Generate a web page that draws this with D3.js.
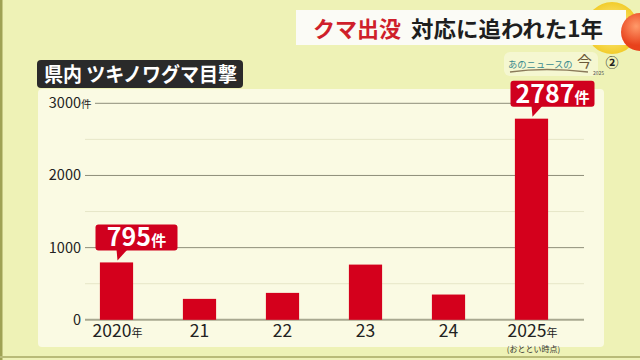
<!DOCTYPE html>
<html><head><meta charset="utf-8">
<script src="https://cdn.jsdelivr.net/npm/d3@7/dist/d3.min.js"></script>
<style>html,body{margin:0;padding:0;background:#eef2b6;}svg{display:block;}</style>
</head><body>
<svg id="c" width="640" height="360"></svg>
<script>
const categories = ["2020", "21", "22", "23", "24", "2025"];
const yearSuffix = ["年", "", "", "", "", "年"];
const values = [795, 290, 373, 765, 350, 2787];
const callouts = [{i: 0, label: "795"}, {i: 5, label: "2787"}];
const majorTicks = [0, 1000, 2000, 3000];
const minorTicks = [500, 1500, 2500];
const titleText = "県内 ツキノワグマ目撃";
const headRed = "クマ出没";
const headBlack = "対応に追われた1年";

const F = "'Noto Sans CJK JP','Noto Sans',sans-serif";
const svg = d3.select("#c");

// background
svg.append("rect").attr("width",640).attr("height",360).attr("fill","#eef2b6");
svg.append("rect").attr("x",0).attr("y",0).attr("width",2.5).attr("height",360).attr("fill","#9fa255");
svg.append("rect").attr("x",0).attr("y",356).attr("width",640).attr("height",2).attr("fill","#b9bb78");

// top-right decorations
const defs = svg.append("defs");
const g1 = defs.append("radialGradient").attr("id","yel");
g1.append("stop").attr("offset","0%").attr("stop-color","#fff3a0");
g1.append("stop").attr("offset","100%").attr("stop-color","#f2cc2a");
const g2 = defs.append("radialGradient").attr("id","org").attr("cx","40%").attr("cy","35%");
g2.append("stop").attr("offset","0%").attr("stop-color","#ff9a6a");
g2.append("stop").attr("offset","100%").attr("stop-color","#e8421c");
svg.append("circle").attr("cx",612).attr("cy",28).attr("r",26).attr("fill","url(#yel)");

// header box
svg.append("rect").attr("x",296).attr("y",10).attr("width",330).attr("height",35).attr("fill","#fbfbf6");
svg.append("circle").attr("cx",640).attr("cy",32).attr("r",19).attr("fill","url(#org)");
svg.append("text").attr("x",313).attr("y",37).attr("font-family",F).attr("font-weight",700).attr("font-size",22)
  .attr("fill","#cf1f2b").text(headRed);
svg.append("text").attr("x",411).attr("y",37).attr("font-family",F).attr("font-weight",700).attr("font-size",22)
  .attr("fill","#1e1e1e").attr("textLength",192).attr("lengthAdjust","spacingAndGlyphs").text(headBlack);

// logo
svg.append("rect").attr("x",504).attr("y",52).attr("width",94).attr("height",24).attr("rx",6).attr("fill","#f6f8d8").attr("opacity",0.8);
svg.append("text").attr("x",508).attr("y",68).attr("font-family",F).attr("font-size",9.3).attr("fill","#3a8a8e")
  .text("あのニュースの");
svg.append("text").attr("x",577).attr("y",67).attr("font-family",F).attr("font-size",15).attr("fill","#6b5a3a").text("今");
svg.append("text").attr("x",593).attr("y",75).attr("font-family",F).attr("font-size",5).attr("fill","#555").text("2025");
svg.append("path").attr("d","M510,72 Q545,67 588,72").attr("stroke","#8a7a5a").attr("stroke-width",1.3).attr("fill","none");
svg.append("text").attr("x",612).attr("y",67).attr("text-anchor","middle").attr("font-family",F).attr("font-weight",700).attr("font-size",13).attr("fill","#222").text("②");

// panel
svg.append("rect").attr("x",38).attr("y",89).attr("width",566).attr("height",258).attr("rx",4).attr("fill","#fafae3");

// title box
svg.append("rect").attr("x",37).attr("y",60).attr("width",206).attr("height",28).attr("rx",4).attr("fill","#2a2a2a");
svg.append("text").attr("x",44).attr("y",82).attr("font-family",F).attr("font-weight",700).attr("font-size",20).attr("fill","#fff")
  .attr("textLength",193).attr("lengthAdjust","spacingAndGlyphs").text(titleText);

// scales
const y = d3.scaleLinear().domain([0,3000]).range([319.8,103.3]);
const x = d3.scaleBand().domain(categories).range([75,573]).paddingInner(0.6).paddingOuter(0.3);

// grid
svg.append("g").selectAll("line").data(minorTicks).join("line")
  .attr("x1",85).attr("x2",584).attr("y1",d=>y(d)).attr("y2",d=>y(d))
  .attr("stroke","#e6e6c8").attr("stroke-width",1);
svg.append("g").selectAll("line").data(majorTicks).join("line")
  .attr("x1",d=>d===3000?95:85).attr("x2",584).attr("y1",d=>y(d)).attr("y2",d=>y(d))
  .attr("stroke",d=>d===0?"#a8a890":"#8e8e7a").attr("stroke-width",d=>d===0?2:1);

// y labels
const yl = svg.append("g").attr("font-family",F).attr("font-size",14.5).attr("fill","#222");
yl.selectAll("text").data(majorTicks).join("text")
  .attr("x",81).attr("y",d=>y(d)+5).attr("text-anchor","end").text(d=>d);
yl.append("text").attr("x",81).attr("y",y(3000)+5).attr("font-size",10.5).text("件");

// bars
svg.append("g").selectAll("rect").data(values).join("rect")
  .attr("x",(d,i)=>x(categories[i])).attr("width",x.bandwidth())
  .attr("y",d=>y(d)).attr("height",d=>y(0)-y(d)).attr("fill","#d4001c");

// x labels
const xl = svg.append("g").attr("font-family",F).attr("font-size",17.5).attr("fill","#222");
categories.forEach((c,i)=>{
  const t = xl.append("text").attr("x",x(c)+x.bandwidth()/2+(yearSuffix[i]?1:0)).attr("y",337).attr("text-anchor","middle");
  t.append("tspan").text(c);
  if (yearSuffix[i]) t.append("tspan").attr("font-size",11).text(yearSuffix[i]);
});
svg.append("text").attr("x",x("2025")+x.bandwidth()/2+2).attr("y",352).attr("text-anchor","middle")
  .attr("font-family",F).attr("font-size",8).attr("fill","#333").text("(おととい時点)");

// callouts
callouts.forEach(co=>{
  const cx = x(categories[co.i]) + x.bandwidth()/2;
  const tipY = y(values[co.i]) - 2;
  const bottom = tipY - 10, top = bottom - 26;
  const w = co.label.length>3?84:82;
  const g = svg.append("g");
  g.append("rect").attr("x",cx-21).attr("y",top).attr("width",w).attr("height",26).attr("rx",3).attr("fill","#d0001e");
  g.append("path").attr("d",`M${cx},${bottom-1} L${cx+1},${tipY} L${cx+11},${bottom-1} Z`).attr("fill","#d0001e");
  const t = g.append("text").attr("x",cx-21+w/2).attr("y",top+22).attr("text-anchor","middle")
    .attr("font-family",F).attr("font-weight",700).attr("fill","#fff");
  t.append("tspan").attr("font-size",25).text(co.label);
  t.append("tspan").attr("font-size",15).text("件");
});
</script>
</body></html>
